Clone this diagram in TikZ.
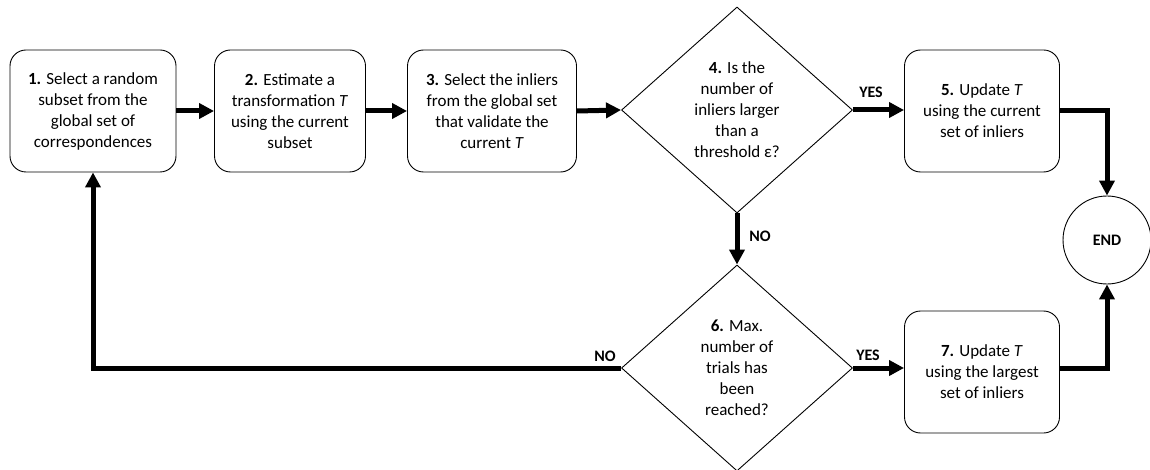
\documentclass[tikz,border=0pt]{standalone}
\usepackage{fontspec}
\setmainfont{Carlito}
\usetikzlibrary{arrows.meta,shapes.geometric}
\begin{document}
\begin{tikzpicture}[x=1pt,y=-1pt,
  font=\fontsize{17}{21}\selectfont,
  stepbox/.style={draw, line width=0.9pt, rounded corners=16pt, minimum height=122pt, align=center, inner sep=0pt},
  decision/.style={draw, line width=0.9pt, diamond, aspect=1.12, minimum width=231pt, minimum height=206pt, align=center, inner sep=0pt},
  endnode/.style={draw, line width=0.9pt, circle, minimum size=88pt, inner sep=0pt, font=\fontsize{16}{18}\selectfont\bfseries},
  flow/.style={line width=5pt, -{Triangle[length=15pt,width=15pt]}},
  lab/.style={font=\fontsize{16}{18}\selectfont\bfseries, inner sep=0pt}
]
\useasboundingbox (0,0) rectangle (1150,470);
\node[stepbox, minimum width=166pt] (b1) at (93,111) {\textbf{1.} Select a random\\subset from the\\global set of\\correspondences};
\node[stepbox, minimum width=151pt] (b2) at (290,111) {\textbf{2.} Estimate a\\transformation \textit{T}\\using the current\\subset};
\node[stepbox, minimum width=169pt] (b3) at (492,111) {\textbf{3.} Select the inliers\\from the global set\\that validate the\\current \textit{T}};
\node[decision] (d4) at (737,110) {\textbf{4.} Is the\\number of\\inliers larger\\than a\\threshold ε?};
\node[stepbox, minimum width=155pt] (b5) at (982,111) {\textbf{5.} Update \textit{T}\\using the current\\set of inliers};
\node[endnode] (end) at (1107,240) {END};
\node[decision] (d6) at (737,368) {\textbf{6.} Max.\\number of\\trials has\\been\\reached?};
\node[stepbox, minimum width=155pt] (b7) at (982,372) {\textbf{7.} Update \textit{T}\\using the largest\\set of inliers};

\draw[flow] (b1.east) -- (b2.west);
\draw[flow] (b2.east) -- (b3.west);
\draw[flow] (b3.east) -- (d4.west);
\draw[flow] (d4.east) -- (d4.east -| b5.west);
\draw[flow] (b5.east) -| (end.north);
\draw[flow] (d4.south) -- (d6.north);
\draw[flow] (d6.east) -- (d6.east -| b7.west);
\draw[flow] (d6.east -| b7.east) -| (end.south);
\draw[flow] (d6.west) -| (b1.south);

\node[lab] (yes1) at (871,92) {YES};
\node[lab] (no1) at (760,236) {NO};
\node[lab] (yes2) at (868,355) {YES};
\node[lab] (no2) at (605,356) {NO};
\end{tikzpicture}
\end{document}
